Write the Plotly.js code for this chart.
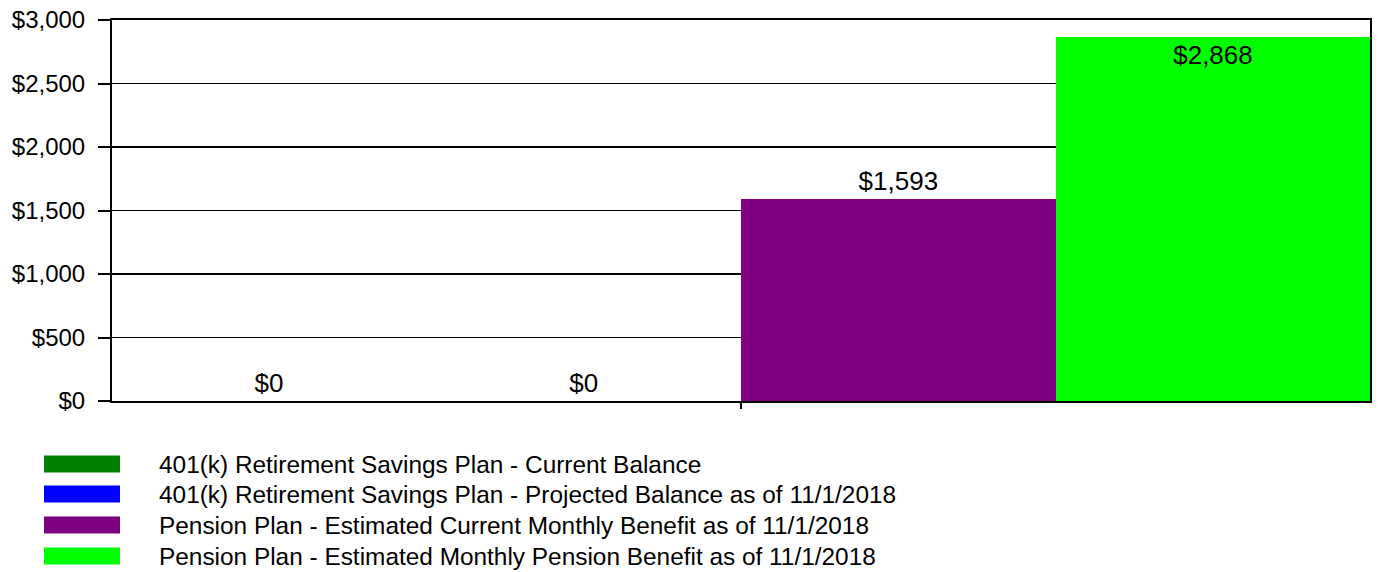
<!DOCTYPE html>
<html><head><meta charset="utf-8">
<script src="https://cdn.plot.ly/plotly-3.0.1.min.js"></script>
<style>body{margin:0;background:#fff}#chart{width:1378px;height:572px}</style>
</head><body><div id="chart"></div>
<script>
const groups = ["401(k)", "401(k)", "Pension", "Pension"];
const seriesNames = [
  "401(k) Retirement Savings Plan - Current Balance",
  "401(k) Retirement Savings Plan - Projected Balance as of 11/1/2018",
  "Pension Plan - Estimated Current Monthly Benefit as of 11/1/2018",
  "Pension Plan - Estimated Monthly Pension Benefit as of 11/1/2018"
];
const values = [0, 0, 1593, 2868];
const colors = ["#008000", "#0000FF", "#800080", "#00FF00"];
const offsetGroups = ["a", "b", "a", "b"];
const textPositions = ["outside", "outside", "outside", "inside"];
const yTickVals = [0, 500, 1000, 1500, 2000, 2500, 3000];
const yTickText = ["$0", "$500", "$1,000", "$1,500", "$2,000", "$2,500", "$3,000"];

const FONT = "Liberation Sans, Arial, sans-serif";
const fmt = v => "$" + v.toLocaleString("en-US");

const traces = values.map((v, i) => ({
  type: "bar",
  x: [groups[i]],
  y: [v],
  name: seriesNames[i],
  offsetgroup: offsetGroups[i],
  marker: {color: colors[i], line: {width: 0}},
  text: [fmt(v)],
  textposition: textPositions[i],
  insidetextanchor: "end",
  textfont: {family: FONT, size: 26, color: "#000"},
  cliponaxis: false,
  showlegend: false,
  hoverinfo: "none"
}));

const PH = 381;
const rowY = [464, 494, 525, 556];
const shapes = [], annotations = [];
seriesNames.forEach((n, i) => {
  const yc = (401 - rowY[i]) / PH;
  shapes.push({type: "rect", xref: "paper", yref: "paper",
    x0: (44 - 112) / 1258, x1: (120 - 112) / 1258,
    y0: yc - 8.5 / PH, y1: yc + 8.5 / PH,
    fillcolor: colors[i], line: {width: 0}, layer: "above"});
  annotations.push({xref: "paper", yref: "paper", x: (157 - 112) / 1258, y: yc,
    xanchor: "left", yanchor: "middle", text: n, showarrow: false,
    font: {family: FONT, size: 24.4, color: "#000"}});
});

const layout = {
  width: 1378, height: 572,
  margin: {l: 112, r: 8, t: 20, b: 171, pad: 0},
  paper_bgcolor: "#fff", plot_bgcolor: "#fff",
  barmode: "group", bargap: 0, bargroupgap: 0,
  font: {family: FONT, color: "#000"},
  xaxis: {type: "category", range: [-0.4995, 1.4995], tickson: "boundaries", ticks: "outside", ticklen: 6,
    tickwidth: 2, tickcolor: "#000", showticklabels: false, showgrid: false,
    showline: true, linecolor: "#000", linewidth: 2, mirror: true, zeroline: false,
    fixedrange: true},
  yaxis: {range: [0, 3000], tickvals: yTickVals, ticktext: yTickText, ticks: "outside",
    ticklen: 12, tickwidth: 2, tickcolor: "#000", showgrid: true, gridcolor: "#000",
    gridwidth: 1.5, showline: true, linecolor: "#000", linewidth: 2, mirror: true,
    zeroline: false, tickfont: {family: FONT, size: 24, color: "#000"}, ticklabelstandoff: 8,
    fixedrange: true},
  shapes: shapes, annotations: annotations, showlegend: false
};
Plotly.newPlot("chart", traces, layout, {displayModeBar: false, staticPlot: true});
</script></body></html>
